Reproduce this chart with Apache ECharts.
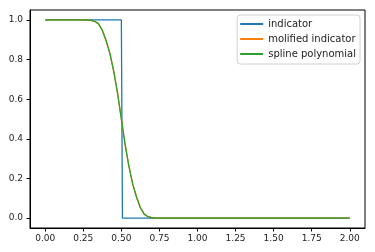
<!DOCTYPE html>
<html><head><meta charset="utf-8">
<script src="https://cdn.jsdelivr.net/npm/echarts@6/dist/echarts.min.js"></script>
<style>html,body{margin:0;padding:0;background:#fff}#c{width:375px;height:252px}</style>
</head><body><div id="c"></div>
<script>
const seriesNames = ['indicator', 'molified indicator', 'spline polynomial'];
const indicatorX = [0, 0.5, 0.507, 2];
const indicatorY = [1, 1, 0, 0];
const smoothX = [0, 0.25, 0.275, 0.3, 0.325, 0.35, 0.375, 0.4, 0.425, 0.45, 0.475, 0.5, 0.525, 0.55, 0.575, 0.6, 0.625, 0.65, 0.675, 0.7, 0.725, 0.75, 2];
const molifiedY = [1, 1, 0.9995, 0.998, 0.993, 0.98, 0.948, 0.895, 0.83, 0.74, 0.63, 0.5, 0.37, 0.26, 0.17, 0.105, 0.052, 0.02, 0.007, 0.002, 0.0005, 0, 0];
const splineY = [1, 1, 0.9995, 0.998, 0.993, 0.98, 0.948, 0.895, 0.83, 0.74, 0.63, 0.5, 0.37, 0.26, 0.17, 0.105, 0.052, 0.02, 0.007, 0.002, 0.0005, 0, 0];
const xTicks = [0, 0.25, 0.5, 0.75, 1, 1.25, 1.5, 1.75, 2];
const yTicks = [0, 0.2, 0.4, 0.6, 0.8, 1.0];
const colors = ['#1f77b4', '#ff7f0e', '#2ca02c'];

const zip = (xs, ys) => xs.map((x, i) => [x, ys[i]]);
const font = 'DejaVu Sans';
const chart = echarts.init(document.getElementById('c'), null, {renderer: 'canvas'});
chart.setOption({
  animation: false,
  color: colors,
  grid: {left: 30, right: 10, top: 10, bottom: 24, show: true, borderColor: '#000', borderWidth: 1, backgroundColor: 'transparent'},
  xAxis: {
    type: 'value', min: -0.1, max: 2.1,
    axisLine: {show: true, onZero: false, lineStyle: {color: '#000', width: 1}},
    axisTick: {show: true, customValues: xTicks, length: 3.5, lineStyle: {color: '#000', width: 1}},
    axisLabel: {customValues: xTicks, formatter: v => v.toFixed(2), fontFamily: font, fontSize: 9, color: '#222', margin: 6},
    splitLine: {show: false}
  },
  yAxis: {
    type: 'value', min: -0.05, max: 1.05,
    axisLine: {show: true, onZero: false, lineStyle: {color: '#000', width: 1}},
    axisTick: {show: true, customValues: yTicks, length: 3.5, lineStyle: {color: '#000', width: 1}},
    axisLabel: {customValues: yTicks, formatter: v => v.toFixed(1), fontFamily: font, fontSize: 9, color: '#222', margin: 7},
    splitLine: {show: false}
  },
  legend: {
    orient: 'vertical', right: 15, top: 15,
    data: seriesNames,
    icon: 'rect', itemWidth: 23, itemHeight: 2, itemGap: 3,
    padding: [3, 4, 4, 3],
    borderColor: '#d0d0d0', borderWidth: 1, borderRadius: 3,
    backgroundColor: 'rgba(255,255,255,0.8)',
    textStyle: {fontFamily: font, fontSize: 10, color: '#222', lineHeight: 12}
  },
  series: [
    {name: seriesNames[0], type: 'line', data: zip(indicatorX, indicatorY), showSymbol: false, lineStyle: {width: 1.3}},
    {name: seriesNames[1], type: 'line', data: zip(smoothX, molifiedY), showSymbol: false, lineStyle: {width: 1.3}},
    {name: seriesNames[2], type: 'line', data: zip(smoothX, splineY), showSymbol: false, lineStyle: {width: 1.3}}
  ]
});
</script></body></html>
